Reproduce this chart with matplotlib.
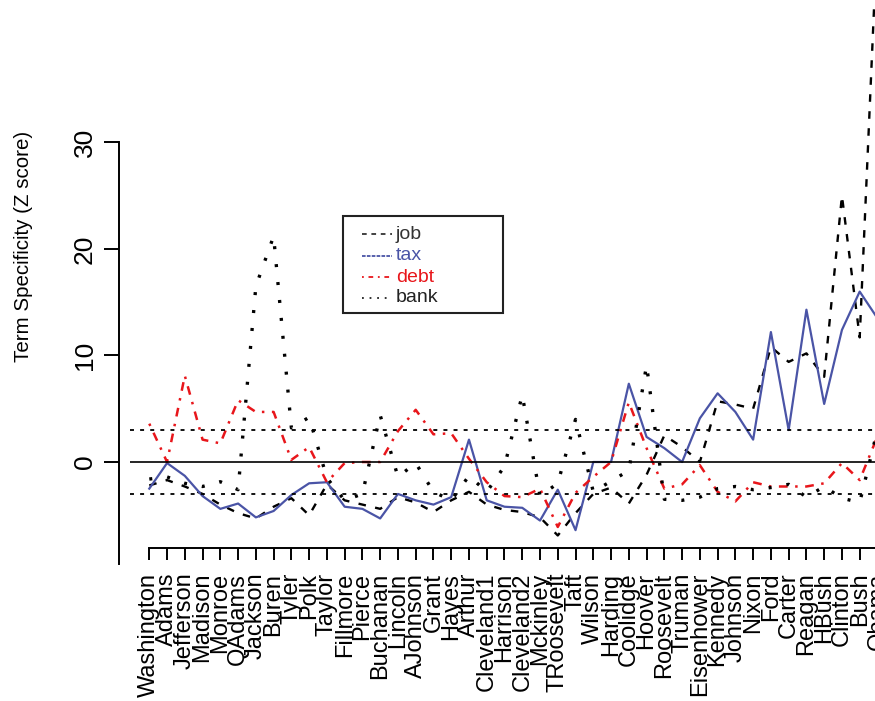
import numpy as np
import matplotlib
matplotlib.use("Agg")
import matplotlib.pyplot as plt
from matplotlib.lines import Line2D
from matplotlib.patches import Rectangle

plt.rcParams['font.family'] = ['Liberation Sans', 'DejaVu Sans']

### Data (Z scores)
presidents = ["Washington", "Adams", "Jefferson", "Madison", "Monroe", "QAdams",
              "Jackson", "Buren", "Tyler", "Polk", "Taylor", "Fillmore", "Pierce",
              "Buchanan", "Lincoln", "AJohnson", "Grant", "Hayes", "Arthur",
              "Cleveland1", "Harrison", "Cleveland2", "Mckinley", "TRoosevelt",
              "Taft", "Wilson", "Harding", "Coolidge", "Hoover", "Roosevelt",
              "Truman", "Eisenhower", "Kennedy", "Johnson", "Nixon", "Ford",
              "Carter", "Reagan", "HBush", "Clinton", "Bush", "Obama"]

job = [-2.2, -1.7, -2.3, -3.0, -4.0, -4.8, -5.3, -4.2, -3.4, -5.0, -2.1, -3.6,
       -4.0, -4.4, -3.3, -3.8, -4.7, -3.6, -2.8, -4.0, -4.5, -4.7, -5.2, -6.9,
       -4.8, -3.0, -2.4, -3.9, -1.2, 2.5, 1.4, 0.0, 5.7, 5.4, 5.0, 10.8,
       9.4, 10.2, 8.0, 25.0, 11.7, 50.0]

tax = [-2.5, -0.1, -1.3, -3.2, -4.4, -3.9, -5.2, -4.6, -3.1, -2.0, -1.9, -4.2,
       -4.4, -5.3, -3.0, -3.6, -4.0, -3.3, 2.1, -3.6, -4.2, -4.3, -5.5, -2.6,
       -6.4, 0.0, 0.0, 7.35, 2.35, 1.3, 0.0, 4.1, 6.45, 4.7, 2.1, 12.2,
       3.0, 14.3, 5.45, 12.4, 16.0, 13.5]

debt = [3.6, 0.0, 8.1, 2.1, 1.75, 5.8, 4.7, 4.7, 0.2, 1.4, -1.9, -0.1,
        0.0, 0.0, 2.9, 4.9, 2.6, 2.7, 0.3, -1.9, -3.2, -3.3, -2.5, -6.1,
        -2.9, -1.4, 0.0, 5.6, 1.3, -2.5, -2.1, -0.3, -2.8, -3.7, -1.9, -2.3,
        -2.3, -2.3, -2.0, -0.1, -1.7, 2.4]

bank = [-1.6, -1.4, -2.0, -2.3, -1.85, -2.6, 16.5, 21.2, 3.2, 4.2, -1.5, -3.6,
        -3.0, 4.4, -1.4, -0.1, -2.8, -3.6, -1.3, -2.8, -0.4, 6.3, -3.2, -2.0,
        4.0, -2.8, -1.8, -0.8, 9.1, -3.5, -3.6, -3.3, -2.5, -2.3, -2.6, -2.4,
        -2.1, -3.3, -2.3, -3.4, -3.8, 3.0]

ref_levels = [-3, 3]

x = np.arange(len(presidents))

tax_col = '#4a54a6'
debt_col = '#e8161b'

fig = plt.figure(figsize=(8.75, 7.01), dpi=100)
# axes deliberately runs past the top/right edge (the original is a crop)
ax = fig.add_axes([0.13003, 0.18902, 0.93367, 1.06348])
ax.set_xlim(-2, 44)
ax.set_ylim(-10, 60)

ax.plot(x, job, color='black', lw=1.7, linestyle=(0, (3.2, 4)))
ax.plot(x, tax, color=tax_col, lw=1.6)
ax.plot(x, debt, color=debt_col, lw=1.8, linestyle=(0, (1, 3, 3.5, 3)))
ax.plot(x, bank, color='black', lw=2.4, linestyle=(0, (0.9, 4.5)))

### Reference lines
ax.hlines(0, -1.08, 44, color='black', lw=1.2, zorder=5)
ax.hlines(ref_levels, -1.08, 44, color='black', lw=1.3,
          linestyles=[(0, (2.2, 3.4))], zorder=5)

### Axes
for s in ['top', 'right']:
    ax.spines[s].set_visible(False)
ax.spines['left'].set_position(('data', -1.68))
ax.spines['left'].set_bounds(-9.6, 30)
ax.spines['bottom'].set_position(('data', -8.1))
ax.spines['bottom'].set_bounds(0, 41)
for s in ['left', 'bottom']:
    ax.spines[s].set_linewidth(1.4)

ax.set_yticks([0, 10, 20, 30])
ax.tick_params(axis='y', length=10.5, width=1.4, labelsize=19, pad=6)
for lab in ax.get_yticklabels():
    lab.set_rotation(90)
    lab.set_va('center')

ax.set_xticks(x)
ax.set_xticklabels(presidents, rotation=90)
ax.tick_params(axis='x', length=8.6, width=1.4, labelsize=17, pad=9)

fig.text(24 / 875, 1 - 246 / 701, "Term Specificity (Z score)", rotation=90,
         ha='center', va='center', fontsize=14.8)

### Legend, drawn by hand to match the boxed R legend
fig.patches.append(Rectangle((343 / 875, 1 - 313 / 701), 160 / 875, 97 / 701,
                             transform=fig.transFigure, fill=False,
                             edgecolor='#222222', linewidth=1.5))
leg_labels = ["job", "tax", "debt", "bank"]
leg_colors = ['#333333', tax_col, debt_col, '#222222']
leg_styles = [(0, (2.6, 2.6)), (0, (2, 0.7)), (0, (1, 2.6, 2.6, 2.6)), (0, (1, 3.2))]
leg_rows = [234, 256, 277, 298]
for lab, col, ls, row in zip(leg_labels, leg_colors, leg_styles, leg_rows):
    yy = 1 - row / 701
    fig.add_artist(Line2D([362 / 875, 392 / 875], [yy, yy], color=col, lw=1.3,
                          linestyle=ls, transform=fig.transFigure))
    fig.text(396 / 875, yy, lab, color=col, fontsize=14, ha='left', va='center')

fig.savefig("out.png", dpi=100)
